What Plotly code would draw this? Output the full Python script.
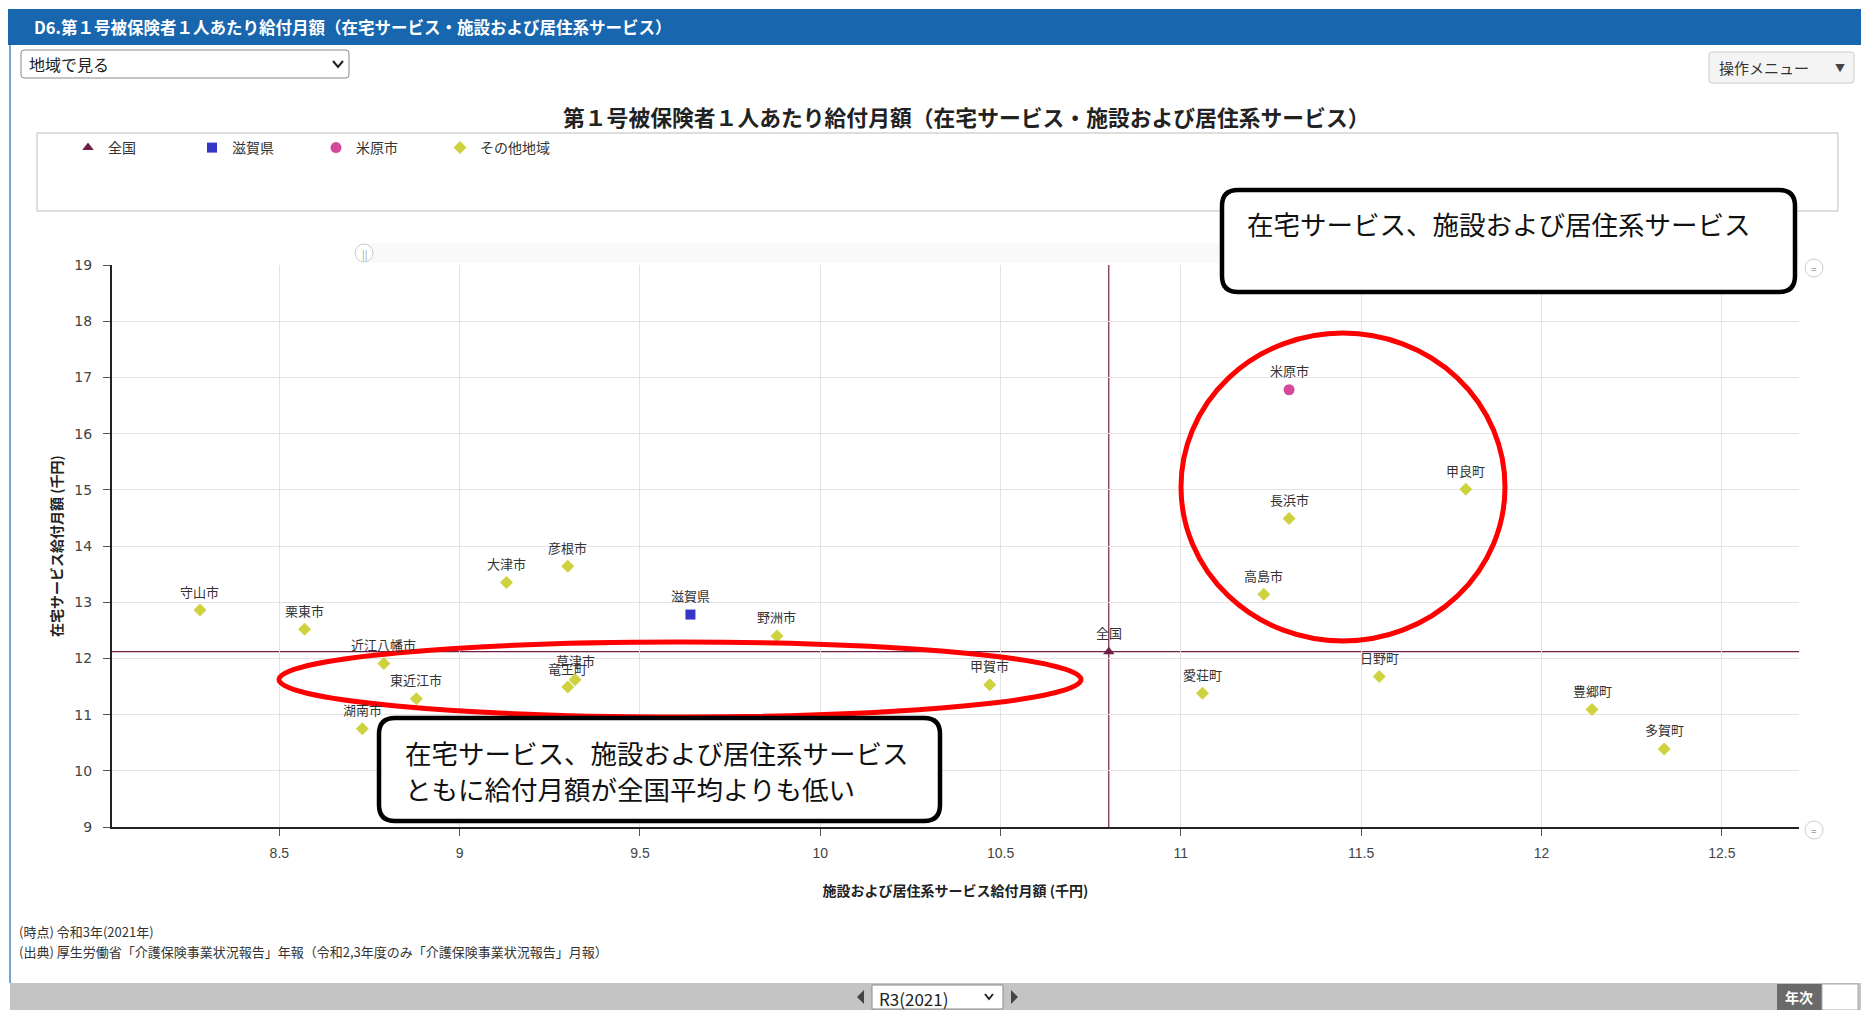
import plotly.graph_objects as go

# ---------------- data ----------------
other_names = ["守山市", "栗東市", "近江八幡市", "東近江市", "湖南市", "大津市", "彦根市",
               "草津市", "竜王町", "野洲市", "甲賀市", "愛荘町", "長浜市", "高島市",
               "甲良町", "日野町", "豊郷町", "多賀町"]
other_x = [8.28, 8.57, 8.79, 8.88, 8.73, 9.13, 9.30, 9.32, 9.30, 9.88, 10.47, 11.06,
           11.30, 11.23, 11.79, 11.55, 12.14, 12.34]
other_y = [12.86, 12.52, 11.91, 11.28, 10.75, 13.35, 13.64, 11.62, 11.49, 12.40, 11.53,
           11.38, 14.49, 13.14, 15.01, 11.68, 11.09, 10.39]

national_name = ["全国"]
national_x = [10.80]
national_y = [12.12]

pref_name = ["滋賀県"]
pref_x = [9.64]
pref_y = [12.78]

city_name = ["米原市"]
city_x = [11.30]
city_y = [16.78]

x_ticks = [8.5, 9, 9.5, 10, 10.5, 11, 11.5, 12, 12.5]
y_ticks = [9, 10, 11, 12, 13, 14, 15, 16, 17, 18, 19]

# ---------------- layout geometry (pixels) ----------------
W, H = 1861, 1010
L, R, T, B = 112, 1799, 265, 827


def px(x):
    return (x - L) / (R - L)


def py(y):
    return (B - y) / (B - T)


def rrect_path(x0, y0, x1, y1, r):
    pts = [
        ("M", [(x0 + r, y0)]), ("L", [(x1 - r, y0)]), ("Q", [(x1, y0), (x1, y0 + r)]),
        ("L", [(x1, y1 - r)]), ("Q", [(x1, y1), (x1 - r, y1)]), ("L", [(x0 + r, y1)]),
        ("Q", [(x0, y1), (x0, y1 - r)]), ("L", [(x0, y0 + r)]), ("Q", [(x0, y0), (x0 + r, y0)]),
    ]
    s = ""
    for cmd, plist in pts:
        s += cmd + " " + " ".join(f"{px(a):.5f},{py(b):.5f}" for a, b in plist) + " "
    return s + "Z"


FONT = "Noto Sans CJK JP"
LABEL_COLOR = "#333333"
NAT_COLOR = "#6e1f44"

fig = go.Figure()

fig.add_trace(go.Scatter(
    x=national_x, y=national_y, name="全国", mode="markers",
    marker=dict(symbol="triangle-up", size=10, color=NAT_COLOR), cliponaxis=False,
))
fig.add_trace(go.Scatter(
    x=pref_x, y=pref_y, name="滋賀県", mode="markers",
    marker=dict(symbol="square", size=10, color="#3535c8"), cliponaxis=False,
))
fig.add_trace(go.Scatter(
    x=city_x, y=city_y, name="米原市", mode="markers",
    marker=dict(symbol="circle", size=11, color="#d4489c"), cliponaxis=False,
))
fig.add_trace(go.Scatter(
    x=other_x, y=other_y, name="その他地域", mode="markers",
    marker=dict(symbol="diamond", size=10, color="#cfd23f"), cliponaxis=False,
))

shapes = []
# national reference lines (from data)
shapes.append(dict(type="line", xref="x", yref="paper", x0=national_x[0], x1=national_x[0],
                   y0=0, y1=1, line=dict(color=NAT_COLOR, width=1.2), layer="below"))
shapes.append(dict(type="line", xref="paper", yref="y", x0=0, x1=1,
                   y0=national_y[0], y1=national_y[0], line=dict(color=NAT_COLOR, width=1.2), layer="below"))
# header bar
shapes.append(dict(type="rect", xref="paper", yref="paper", x0=px(8), x1=px(1861),
                   y0=py(45), y1=py(9), fillcolor="#1766ae", line=dict(width=0)))
# left page border
shapes.append(dict(type="line", xref="paper", yref="paper", x0=px(10), x1=px(10),
                   y0=py(983), y1=py(45), line=dict(color="#4a86c5", width=1.5)))
# dropdown "地域で見る"
shapes.append(dict(type="path", xref="paper", yref="paper", path=rrect_path(21, 50, 349, 78, 3),
                   fillcolor="white", line=dict(color="#8a8a8a", width=1)))
shapes.append(dict(type="path", xref="paper", yref="paper",
                   path=f"M {px(333)},{py(61)} L {px(338)},{py(67)} L {px(343)},{py(61)}",
                   line=dict(color="#222222", width=2)))
# operation menu button
shapes.append(dict(type="path", xref="paper", yref="paper", path=rrect_path(1709, 52, 1854, 83, 3),
                   fillcolor="#f4f4f4", line=dict(color="#cccccc", width=1)))
# legend box
shapes.append(dict(type="rect", xref="paper", yref="paper", x0=px(37), x1=px(1838),
                   y0=py(211), y1=py(133), line=dict(color="#bdbdbd", width=1)))
# navigator band above plot
shapes.append(dict(type="rect", xref="paper", yref="paper", x0=px(364), x1=px(1799),
                   y0=py(263), y1=py(243), fillcolor="#f9f9f9", line=dict(width=0)))
shapes.append(dict(type="circle", xref="paper", yref="paper", x0=px(355), x1=px(373),
                   y0=py(262), y1=py(244), fillcolor="white", line=dict(color="#cccccc", width=1)))
for cy in (268, 830):
    shapes.append(dict(type="circle", xref="paper", yref="paper", x0=px(1805), x1=px(1823),
                       y0=py(cy + 9), y1=py(cy - 9), fillcolor="white", line=dict(color="#cccccc", width=1)))
# bottom gray bar
shapes.append(dict(type="rect", xref="paper", yref="paper", x0=px(10), x1=px(1861),
                   y0=py(1010), y1=py(983), fillcolor="#c4c4c4", line=dict(width=0)))
shapes.append(dict(type="rect", xref="paper", yref="paper", x0=px(872), x1=px(1003),
                   y0=py(1009), y1=py(985), fillcolor="white", line=dict(color="#8a8a8a", width=1)))
shapes.append(dict(type="path", xref="paper", yref="paper",
                   path=f"M {px(985)},{py(994)} L {px(989)},{py(999)} L {px(993)},{py(994)}",
                   line=dict(color="#222222", width=2)))
shapes.append(dict(type="path", xref="paper", yref="paper",
                   path=f"M {px(864)},{py(990)} L {px(857)},{py(997)} L {px(864)},{py(1004)} Z",
                   fillcolor="#444444", line=dict(width=0)))
shapes.append(dict(type="path", xref="paper", yref="paper",
                   path=f"M {px(1011)},{py(990)} L {px(1018)},{py(997)} L {px(1011)},{py(1004)} Z",
                   fillcolor="#444444", line=dict(width=0)))
shapes.append(dict(type="rect", xref="paper", yref="paper", x0=px(1777), x1=px(1822),
                   y0=py(1010), y1=py(984), fillcolor="#6a6a6a", line=dict(width=0)))
shapes.append(dict(type="rect", xref="paper", yref="paper", x0=px(1822), x1=px(1858),
                   y0=py(1010), y1=py(984), fillcolor="white", line=dict(color="#aaaaaa", width=1)))
# red ellipses
shapes.append(dict(type="circle", xref="paper", yref="paper", x0=px(279), x1=px(1081),
                   y0=py(717), y1=py(642), line=dict(color="#ff0000", width=5)))
shapes.append(dict(type="circle", xref="paper", yref="paper", x0=px(1181), x1=px(1505),
                   y0=py(641), y1=py(333), line=dict(color="#ff0000", width=5)))
# callout boxes
shapes.append(dict(type="path", xref="paper", yref="paper", path=rrect_path(1222, 190, 1795, 292, 16),
                   fillcolor="white", line=dict(color="black", width=4.5)))
shapes.append(dict(type="path", xref="paper", yref="paper", path=rrect_path(379, 718, 940, 821, 16),
                   fillcolor="white", line=dict(color="black", width=4.5)))


def ann(text, x, y, size, color="#222222", xanchor="left", bold=False, family=FONT):
    if bold:
        text = f"<b>{text}</b>"
    return dict(text=text, xref="paper", yref="paper", x=px(x), y=py(y), showarrow=False,
                xanchor=xanchor, yanchor="middle", font=dict(size=size, color=color, family=family))


# data labels above every point, placed through the data axes
point_labels = []
for names, xs, ys in ((other_names, other_x, other_y), (pref_name, pref_x, pref_y),
                      (city_name, city_x, city_y), (national_name, national_x, national_y)):
    for n, xv, yv in zip(names, xs, ys):
        point_labels.append(dict(text=n, x=xv, y=yv, xref="x", yref="y", showarrow=False,
                                 yshift=19, xanchor="center", yanchor="middle",
                                 font=dict(size=13, color=LABEL_COLOR, family=FONT)))

annotations = point_labels + [
    ann("D6.第１号被保険者１人あたり給付月額（在宅サービス・施設および居住系サービス）", 32, 27, 16.5, "white", bold=True),
    ann("地域で見る", 27, 64, 16, "#222222"),
    ann("操作メニュー", 1717, 68, 15, "#333333"),
    ann("▼", 1840, 68, 10, "#444444", xanchor="center"),
    ann("第１号被保険者１人あたり給付月額（在宅サービス・施設および居住系サービス）", 966, 117, 21.8, "#222222",
        xanchor="center", bold=True),
    ann("||", 364, 253, 10, "#999999", xanchor="center"),
    ann("=", 1814, 268, 10, "#999999", xanchor="center"),
    ann("=", 1814, 830, 10, "#999999", xanchor="center"),
    ann("在宅サービス、施設および居住系サービス", 1245, 224, 26.5, "#111111"),
    ann("在宅サービス、施設および居住系サービス", 403, 752, 26.5, "#111111"),
    ann("ともに給付月額が全国平均よりも低い", 403, 788, 26.5, "#111111"),
    ann("(時点) 令和3年(2021年)", 17, 931, 13, "#333333"),
    ann("(出典) 厚生労働省「介護保険事業状況報告」年報（令和2,3年度のみ「介護保険事業状況報告」月報）",
        17, 951, 13, "#333333"),
    ann("R3(2021)", 877, 998, 17, "#222222"),
    ann("年次", 1799, 997, 14, "white", xanchor="center", bold=True),
]

fig.update_layout(
    width=W, height=H,
    margin=dict(l=L, r=W - R, t=T, b=H - B, pad=0),
    paper_bgcolor="white", plot_bgcolor="white",
    font=dict(family=FONT, color="#333333"),
    showlegend=True,
    legend=dict(orientation="h", xref="container", yref="container",
                x=(68 / W), y=1 - 148 / H, xanchor="left", yanchor="middle",
                font=dict(size=14, color="#333333", family=FONT),
                entrywidth=79, entrywidthmode="pixels", traceorder="normal",
                bgcolor="rgba(0,0,0,0)", borderwidth=0),
    shapes=shapes,
    annotations=annotations,
)

fig.update_xaxes(
    range=[8.036, 12.714], tickvals=x_ticks, ticktext=[str(v) for v in x_ticks],
    showgrid=True, gridcolor="#e3e3e3", gridwidth=1, zeroline=False,
    showline=True, linecolor="#222222", linewidth=2,
    ticks="outside", ticklen=7, tickcolor="#555555", tickwidth=1,
    tickfont=dict(size=14, color="#444444", family="Liberation Sans"),
    ticklabelstandoff=5,
    title=dict(text="<b>施設および居住系サービス給付月額 (千円)</b>",
               font=dict(size=14, color="#222222", family=FONT), standoff=26),
    automargin=False,
)
fig.update_yaxes(
    range=[9, 19], tickvals=y_ticks,
    showgrid=True, gridcolor="#e3e3e3", gridwidth=1, zeroline=False,
    showline=True, linecolor="#222222", linewidth=2,
    ticks="outside", ticklen=7, tickcolor="#555555", tickwidth=1,
    tickfont=dict(size=14, color="#444444", family="DejaVu Sans"),
    ticklabelstandoff=8,
    title=dict(text="<b>在宅サービス給付月額 (千円)</b>",
               font=dict(size=14, color="#222222", family=FONT), standoff=8),
    automargin=False,
)

fig.write_html("out.html", config={"displayModeBar": False},
               post_script="document.body.style.margin='0';document.body.style.overflow='hidden';")
